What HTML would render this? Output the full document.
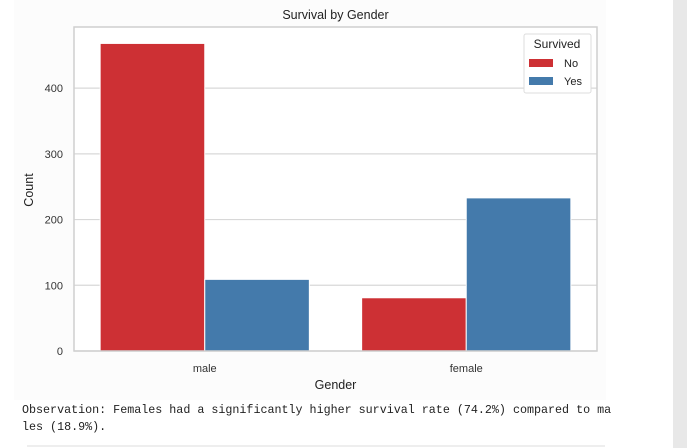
<!DOCTYPE html>
<html><head><meta charset="utf-8"><style>
body{margin:0;width:687px;height:448px;background:#fff;position:relative;overflow:hidden;font-family:"Liberation Sans",sans-serif}
#strip{position:absolute;left:673px;top:0;width:14px;height:448px;background:#e8e8e8}
#fig{position:absolute;left:14px;top:0;width:592px;height:400px;background:#fcfcfc}
#obs{position:absolute;left:22px;top:402px;font-family:"Liberation Mono",monospace;font-size:11.7px;line-height:17px;color:#222;white-space:pre}
#rule{position:absolute;left:27px;top:445px;width:578px;height:2px;background:#eee}
</style></head><body>
<div id="strip"></div>
<div id="fig"></div>
<svg id="chart" width="687" height="400" style="position:absolute;left:0;top:0"></svg>
<div id="obs">Observation: Females had a significantly higher survival rate (74.2%) compared to ma
les (18.9%).</div>
<div id="rule"></div>
<script>
const categories=["male","female"];
const seriesNames=["No","Yes"];
const noValues=[468,81];
const yesValues=[109,233];
const yTicks=[0,100,200,300,400];
const colors=["#cd3034","#447aab"];
const svg=document.getElementById('chart');
const NS="http://www.w3.org/2000/svg";
const L=74,R=597,T=27,B=351,YMAX=493;
const y=v=>B-(v/YMAX)*(B-T);
const band=(R-L)/categories.length;
const bw=band*0.8/2;
const x=(ci,si)=>L+band*ci+band*0.1+bw*si;
function el(tag,attrs,parent){const e=document.createElementNS(NS,tag);for(const k in attrs)e.setAttribute(k,attrs[k]);(parent||svg).appendChild(e);return e;}
el('rect',{x:L,y:T,width:R-L,height:B-T,fill:'#fff'});
yTicks.forEach(t=>{
  const g=el('line',{x1:L,x2:R,y1:y(t),y2:y(t),stroke:'#d8d8d8','stroke-width':1.2});
  
  
  const tx=el('text',{x:63,y:y(t)+4,'text-anchor':'end','font-size':11,fill:'#333'});
  tx.textContent=t;
  
  
});
[noValues,yesValues].forEach((vals,si)=>{
  vals.forEach((v,ci)=>{
    const r=el('rect',{x:x(ci,si),y:y(v),width:bw,height:B-y(v),fill:colors[si],stroke:'#fff','stroke-width':1});
    
    
  });
});
categories.forEach((c,ci)=>{
  const tx=el('text',{x:L+band*(ci+0.5),y:372,'text-anchor':'middle','font-size':11,fill:'#333'});
  tx.textContent=c;
  
  
});
const fr=el('rect',{x:L,y:T,width:R-L,height:B-T,fill:'none',stroke:'#cfcfcf','stroke-width':1.5});


const title=el('text',{x:(L+R)/2,y:19,'text-anchor':'middle','font-size':12.5,fill:'#222'});
title.textContent='Survival by Gender';


const xl=el('text',{x:(L+R)/2,y:389,'text-anchor':'middle','font-size':12.5,fill:'#222'});
xl.textContent='Gender';


const yl=el('text',{x:33,y:190,'text-anchor':'middle','font-size':12.5,fill:'#222',transform:'rotate(-90 33 190)'});
yl.textContent='Count';


const lg=el('g',{});


el('rect',{x:524,y:34,width:67,height:59,rx:2,fill:'#fff',stroke:'#ddd'},lg);
const lt=el('text',{x:557,y:48,'text-anchor':'middle','font-size':12,fill:'#222'},lg);
lt.textContent='Survived';
seriesNames.forEach((s,i)=>{
  const p=el('rect',{x:529,y:59+i*18,width:24,height:8,fill:colors[i]},lg);
  
  
  const t=el('text',{x:564,y:67+i*18,'font-size':11,fill:'#222'},lg);
  t.textContent=s;
  
  
});
</script>
</body></html>
